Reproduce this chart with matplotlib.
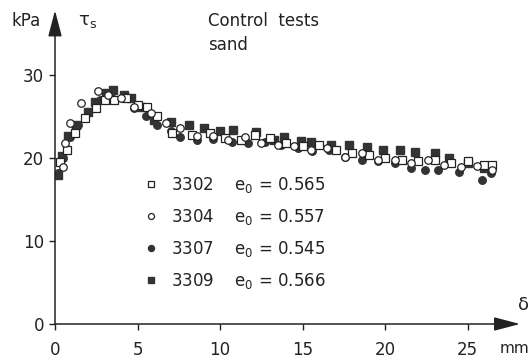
import matplotlib
matplotlib.use('Agg')
import matplotlib.pyplot as plt

plt.rcParams['font.family'] = ['DejaVu Sans']
plt.rcParams['mathtext.default'] = 'regular'

# test 3302 (open squares)
x_3302 = [0.3, 0.7, 1.2, 1.8, 2.5, 3.0, 3.6, 4.3, 5.0, 5.6, 6.2, 7.1, 8.3, 9.4, 10.3, 11.3,
          12.1, 13.0, 14.0, 15.0, 16.0, 17.0, 18.0, 19.0, 20.0, 21.0, 22.0, 23.0, 24.0, 25.0, 26.0, 26.5]
y_3302 = [19.5, 21.0, 23.0, 24.8, 26.0, 27.0, 27.0, 27.2, 26.4, 26.2, 25.0, 23.0, 22.8, 23.0, 22.4, 22.2,
          22.8, 22.4, 21.8, 21.4, 21.6, 21.0, 20.6, 20.4, 20.0, 19.8, 19.6, 19.8, 19.4, 19.6, 19.2, 19.2]

# test 3304 (open circles)
x_3304 = [0.5, 0.6, 0.9, 1.6, 2.6, 3.2, 4.0, 4.8, 5.8, 6.7, 7.6, 8.6, 9.6, 10.5, 11.5, 12.5,
          13.5, 14.5, 15.5, 16.5, 17.6, 18.6, 19.6, 20.6, 21.6, 22.6, 23.6, 24.6, 25.6, 26.5]
y_3304 = [18.9, 21.8, 24.2, 26.6, 28.1, 27.6, 27.2, 26.2, 25.4, 24.2, 23.6, 22.6, 22.6, 22.2, 22.5, 21.8,
          21.6, 21.4, 21.0, 21.2, 20.1, 20.6, 19.8, 19.8, 19.4, 19.8, 19.2, 18.9, 19.0, 18.5]

# test 3307 (filled circles)
x_3307 = [0.2, 0.5, 0.9, 1.4, 2.0, 2.7, 3.4, 4.1, 4.8, 5.5, 6.2, 7.0, 7.6, 8.6, 9.6, 10.7,
          11.7, 12.7, 13.7, 14.7, 15.6, 16.6, 17.6, 18.6, 19.6, 20.6, 21.6, 22.4, 23.2, 24.5, 25.9, 26.4]
y_3307 = [18.2, 20.0, 22.5, 24.0, 25.5, 27.0, 27.8, 27.2, 26.0, 25.0, 24.0, 23.2, 22.5, 22.2, 22.3, 21.9,
          21.8, 21.9, 21.6, 21.2, 20.8, 21.0, 20.1, 19.8, 19.6, 19.4, 18.8, 18.6, 18.6, 18.3, 17.4, 18.2]

# test 3309 (filled squares)
x_3309 = [0.2, 0.4, 0.8, 1.3, 2.0, 2.4, 3.1, 3.5, 4.2, 4.6, 5.2, 6.0, 7.0, 8.1, 9.0, 10.0,
          10.8, 12.2, 13.3, 13.9, 14.9, 15.5, 16.7, 17.8, 18.9, 19.9, 20.9, 21.8, 23.0, 23.9, 25.0, 26.0]
y_3309 = [18.0, 20.2, 22.6, 24.0, 25.6, 26.8, 27.8, 28.2, 27.6, 27.2, 26.2, 24.6, 24.3, 24.0, 23.6, 23.2,
          23.4, 23.1, 22.2, 22.5, 22.0, 21.9, 21.6, 21.6, 21.3, 21.0, 21.0, 20.7, 20.6, 20.0, 19.4, 18.8]

tests = ['3302', '3304', '3307', '3309']
e0 = ['0.565', '0.557', '0.545', '0.566']

ink = '#222222'
fs = 12

fig = plt.figure(figsize=(5.31, 3.61), dpi=100)
ax = fig.add_axes([55 / 531, 37 / 361, 465 / 531, 312 / 361])
ax.set_xlim(0, 465 / 16.5)
ax.set_ylim(0, 312 / 8.3)

ms = 5.4
ax.plot(x_3302, y_3302, 's', ms=ms, mfc='white', mec=ink, mew=0.9, zorder=3,
        label=f'{tests[0]}    e$_0$ = {e0[0]}')
ax.plot(x_3304, y_3304, 'o', ms=ms, mfc='white', mec=ink, mew=0.9, zorder=4,
        label=f'{tests[1]}    e$_0$ = {e0[1]}')
ax.plot(x_3307, y_3307, 'o', ms=ms, mfc='#333333', mec='#333333', zorder=2,
        label=f'{tests[2]}    e$_0$ = {e0[2]}')
ax.plot(x_3309, y_3309, 's', ms=ms, mfc='#333333', mec='#333333', zorder=2,
        label=f'{tests[3]}    e$_0$ = {e0[3]}')

for s in ax.spines.values():
    s.set_visible(False)

# axis arrows
arrow = dict(arrowstyle='-|>,head_length=1.6,head_width=0.42', color=ink, lw=1.1,
             shrinkA=0, shrinkB=0, mutation_scale=10)
ax.annotate('', xy=(1, 0), xytext=(0, 0), xycoords='axes fraction', arrowprops=arrow)
ax.annotate('', xy=(0, 1.005), xytext=(0, 0), xycoords='axes fraction', arrowprops=arrow)

ax.set_xticks([0, 5, 10, 15, 20, 25])
ax.set_yticks([0, 10, 20, 30])
ax.tick_params(axis='x', length=4, width=1, color=ink, pad=8, labelsize=fs, labelcolor=ink)
ax.tick_params(axis='y', length=4, width=1, color=ink, pad=4, labelsize=fs, labelcolor=ink)

ax.text(-0.03, 0.97, 'kPa', transform=ax.transAxes, ha='right', va='center', fontsize=fs, color=ink)
ax.text(0.07, 0.97, r'$\tau_s$', transform=ax.transAxes, ha='center', va='center', fontsize=13, color=ink)
ax.text(153 / 465, 0.972, 'Control  tests', transform=ax.transAxes, ha='left', va='center',
        fontsize=fs, color=ink)
ax.text(153 / 465, 0.893, 'sand', transform=ax.transAxes, ha='left', va='center',
        fontsize=fs, color=ink)
ax.text(1.02, 0.06, r'$\delta$', transform=ax.transAxes, ha='right', va='center',
        fontsize=13, color=ink)
ax.text(1.02, -0.08, 'mm', transform=ax.transAxes, ha='right', va='center',
        fontsize=11, color=ink)

leg = ax.legend(loc='upper left', bbox_to_anchor=((143 - 55) / 465, (324 - 175) / 312),
                frameon=False, borderpad=0, borderaxespad=0, handlelength=1.0,
                handletextpad=0.7, labelspacing=0.72, markerscale=0.8, fontsize=fs)
for t in leg.get_texts():
    t.set_color(ink)

fig.savefig('out.png', dpi=100)
